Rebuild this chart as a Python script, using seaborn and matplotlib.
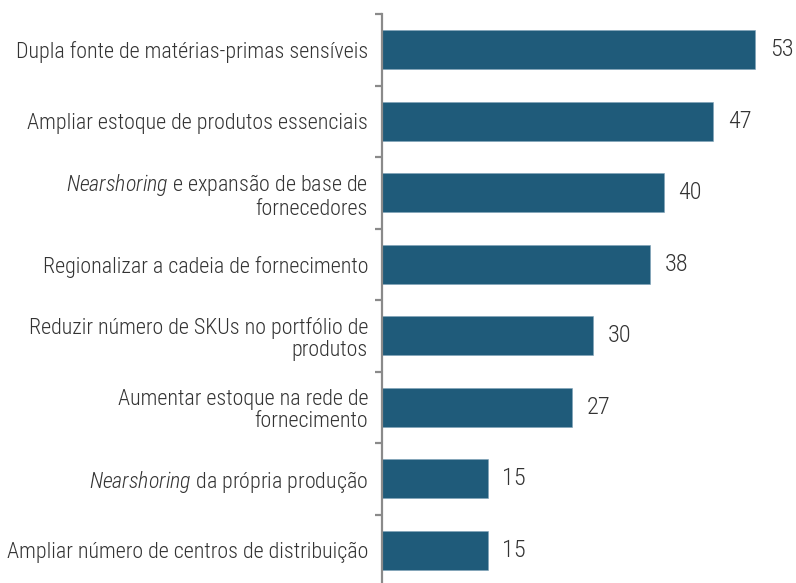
import matplotlib
matplotlib.use("Agg")
import matplotlib.pyplot as plt
import seaborn as sns
import pandas as pd

categories = [
    "Dupla fonte de matérias-primas sensíveis",
    "Ampliar estoque de produtos essenciais",
    r"$\it{Nearshoring}$ e expansão de base de" + "\nfornecedores",
    "Regionalizar a cadeia de fornecimento",
    "Reduzir número de SKUs no portfólio de\nprodutos",
    "Aumentar estoque na rede de\nfornecimento",
    r"$\it{Nearshoring}$ da própria produção",
    "Ampliar número de centros de distribuição",
]
values = [53, 47, 40, 38, 30, 27, 15, 15]

sns.set_theme(style="white")
family = "Roboto Condensed"
plt.rcParams["font.family"] = [family, "Liberation Sans Narrow", "DejaVu Sans"]
plt.rcParams["font.weight"] = "light"
plt.rcParams["mathtext.fontset"] = "custom"
plt.rcParams["mathtext.rm"] = family + ":light"
plt.rcParams["mathtext.it"] = family + ":italic:light"

text_color = "#333333"
bar_color = "#1F5B7A"
axis_color = "#8A8A8A"

df = pd.DataFrame({"categoria": categories, "valor": values})

fig = plt.figure(figsize=(7.96, 5.83), dpi=100)
ax = fig.add_axes([382 / 796, -3 / 583, 414 / 796, 572 / 583])

sns.barplot(data=df, x="valor", y="categoria", orient="h", color=bar_color,
            saturation=1, width=0.55, ax=ax, edgecolor="#7FA3B8", linewidth=0.4)

ax.set_xlim(0, 414 / 7.04)
ax.set_ylim(len(values) - 0.5, -0.5)
ax.set_xlabel("")
ax.set_ylabel("")
ax.set_xticks([])

for spine in ["top", "right", "bottom"]:
    ax.spines[spine].set_visible(False)
ax.spines["left"].set_color(axis_color)
ax.spines["left"].set_linewidth(1.6)

ax.set_yticks(range(len(categories)))
ax.set_yticklabels(categories, fontsize=15.8, color=text_color, ha="right",
                   linespacing=1.1, fontweight="light")
ax.tick_params(axis="y", which="major", length=0, pad=10)
ax.set_yticks([i - 0.5 for i in range(len(categories) + 1)], minor=True)
ax.tick_params(axis="y", which="minor", left=True, length=5, width=1.6,
               color=axis_color)

for i, v in enumerate(values):
    ax.text(v + 2.1, i, f"{v}", va="center", ha="left", fontsize=17.5,
            color=text_color, fontweight="light")

fig.savefig("out.png", dpi=100)
